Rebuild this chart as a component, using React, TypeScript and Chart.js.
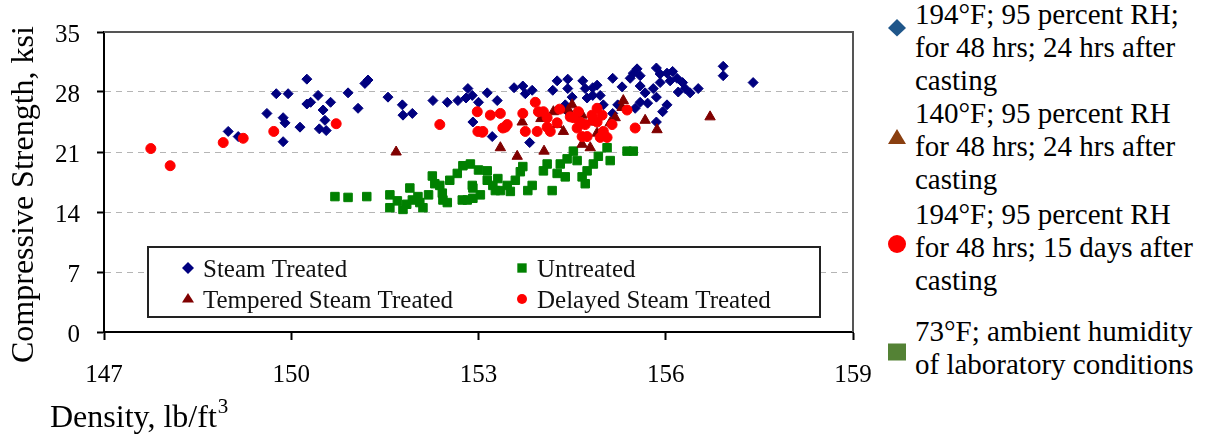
import React, { useEffect, useRef } from 'react';
import { Chart, registerables } from 'chart.js';

Chart.register(...registerables);

// ---------- data (density lb/ft3, compressive strength ksi) ----------
const steamTreated: [number, number][] = [
  [148.99, 23.4], [149.15, 22.8], [149.61, 25.5], [149.76, 27.8], [149.95, 27.8], [149.87, 25.0],
  [149.9, 24.4], [149.87, 22.2], [150.14, 23.9], [150.25, 29.5], [150.25, 26.6], [150.31, 26.8],
  [150.43, 27.6], [150.51, 25.9], [150.45, 23.7], [150.56, 23.5], [150.54, 24.7], [150.63, 26.8],
  [150.91, 27.9], [151.07, 26.1], [151.18, 29.0], [151.23, 29.4], [151.55, 27.4], [151.78, 26.5],
  [151.79, 25.3], [151.94, 25.5], [152.27, 27.0], [152.5, 26.8], [152.67, 27.0], [152.8, 27.3],
  [152.83, 28.4], [152.9, 27.6], [153.0, 26.8], [152.91, 24.5], [153.14, 27.9], [153.22, 22.8],
  [153.3, 27.0], [153.57, 28.5], [153.71, 28.7], [153.75, 27.8], [153.86, 28.2], [153.82, 22.1],
  [154.19, 28.2], [154.26, 29.3], [154.43, 29.5], [154.43, 28.4], [154.5, 27.4], [154.39, 26.5],
  [154.67, 29.3], [154.71, 28.4], [154.83, 28.5], [154.83, 27.6], [154.95, 27.6], [155.0, 26.5],
  [155.15, 29.6], [155.15, 25.5], [155.23, 26.5], [155.43, 29.6], [155.48, 30.2], [155.54, 30.7],
  [155.59, 28.7], [155.67, 27.9], [155.8, 28.4], [155.85, 30.8], [155.91, 30.1], [155.91, 29.1],
  [156.02, 30.2], [156.07, 29.3], [156.11, 30.4], [156.18, 29.6], [156.27, 29.1], [156.31, 28.4],
  [156.39, 27.9], [156.52, 28.4], [155.85, 27.4], [155.71, 26.7], [155.59, 26.8], [155.51, 26.1],
  [156.02, 26.5], [155.95, 25.7], [155.85, 24.5], [156.92, 31.0], [156.92, 29.9], [157.4, 29.1],
  [154.43, 25.7], [155.59, 29.9], [154.74, 27.3], [154.9, 28.8], [155.3, 28.6], [156.2, 28.0],
];

const untreated: [number, number][] = [
  [150.7, 15.8], [150.91, 15.7], [151.21, 15.8], [151.58, 16.0], [151.58, 14.5], [151.7, 15.3],
  [151.79, 14.3], [151.9, 16.8], [151.94, 15.4], [152.03, 15.8], [152.11, 14.5], [152.26, 18.2],
  [152.3, 17.3], [152.42, 16.2], [152.5, 15.1], [152.66, 18.5], [152.75, 19.4], [152.87, 19.6],
  [152.82, 15.4], [152.91, 16.8], [152.91, 15.6], [152.06, 15.1], [152.38, 17.1], [152.43, 15.4],
  [152.54, 17.7], [152.74, 15.4], [152.9, 17.1], [153.03, 16.0], [153.14, 18.8], [153.23, 17.1],
  [153.31, 17.9], [153.35, 16.5], [153.46, 17.1], [153.51, 16.4], [153.59, 17.7], [153.67, 18.7],
  [153.71, 19.3], [153.79, 16.5], [153.86, 17.1], [154.04, 18.8], [154.1, 19.6], [154.18, 16.5],
  [154.26, 18.5], [154.31, 19.6], [154.42, 20.2], [154.39, 18.1], [154.52, 21.1], [154.58, 20.0],
  [154.66, 18.1], [154.74, 18.8], [154.84, 19.6], [154.92, 20.5], [155.06, 21.5], [155.11, 20.0],
  [155.38, 21.1], [155.48, 21.1], [154.71, 17.3], [153.27, 16.5], [153.14, 17.7], [151.85, 14.9],
  [152.2, 16.0], [153.0, 18.9],
];

const temperedSteamTreated: [number, number][] = [
  [151.68, 21.0], [153.35, 21.5], [153.62, 20.5], [154.05, 21.1], [155.32, 27.0], [155.67, 24.7],
  [155.86, 23.6], [156.71, 25.1], [154.44, 25.9], [154.66, 25.3], [154.79, 24.5], [155.11, 24.4],
  [155.19, 25.0], [154.66, 21.9], [154.79, 21.5], [154.26, 24.2], [154.36, 23.4], [154.2, 25.7],
  [154.5, 26.5], [154.9, 23.2], [155.3, 26.2], [153.7, 24.5], [154.0, 24.9],
];

const delayedSteamTreated: [number, number][] = [
  [147.75, 21.4], [148.06, 19.4], [148.91, 22.1], [149.23, 22.6], [149.72, 23.4], [150.72, 24.3],
  [152.38, 24.2], [152.98, 25.7], [152.99, 23.4], [153.06, 23.3], [153.19, 25.3], [153.35, 25.5],
  [153.39, 23.8], [153.46, 24.2], [153.71, 25.5], [153.75, 23.4], [153.91, 26.8], [153.94, 23.4],
  [153.96, 25.7], [154.04, 25.7], [154.1, 25.0], [154.15, 23.4], [154.26, 24.4], [154.1, 23.9],
  [154.47, 25.1], [154.52, 25.0], [154.58, 23.8], [154.66, 22.8], [154.71, 24.2], [154.82, 25.3],
  [154.9, 24.5], [154.98, 25.3], [155.0, 23.4], [155.06, 22.7], [155.14, 24.2], [155.38, 25.9],
  [155.51, 23.8], [154.74, 22.8], [154.95, 22.7], [154.6, 25.7], [154.63, 24.5], [154.84, 24.7],
  [153.43, 23.9], [153.07, 23.4], [154.3, 26.0], [154.9, 26.1],
];

const xTicks = [147, 150, 153, 156, 159];
const yTicks = [0, 7, 14, 21, 28, 35];

const seriesNames = ['Steam Treated', 'Untreated', 'Tempered Steam Treated', 'Delayed Steam Treated'];
const xTitle = 'Density, lb/ft';
const xTitleSup = '3';
const yTitle = 'Compressive Strength, ksi';

const sideLegendBlocks: string[][] = [
  ['194°F; 95 percent RH;', 'for 48 hrs; 24 hrs after', 'casting'],
  ['140°F; 95 percent RH', 'for 48 hrs; 24 hrs after', 'casting'],
  ['194°F; 95 percent RH', 'for 48 hrs; 15 days after', 'casting'],
  ['73°F; ambient humidity', 'of laboratory conditions'],
];

const FONT = '"Liberation Serif", "Times New Roman", serif';

const COLORS = {
  steam: '#00007f',
  untreated: '#008000',
  tempered: '#800000',
  delayed: '#ff0000',
};

function drawMarker(ctx: CanvasRenderingContext2D, style: string, x: number, y: number, r: number, color: string) {
  ctx.save();
  ctx.fillStyle = color;
  ctx.beginPath();
  if (style === 'rectRot') {
    ctx.moveTo(x, y - r);
    ctx.lineTo(x + r, y);
    ctx.lineTo(x, y + r);
    ctx.lineTo(x - r, y);
    ctx.closePath();
  } else if (style === 'rect') {
    ctx.rect(x - r * 0.85, y - r * 0.85, r * 1.7, r * 1.7);
  } else if (style === 'triangle') {
    ctx.moveTo(x, y - r);
    ctx.lineTo(x + r, y + r * 0.6);
    ctx.lineTo(x - r, y + r * 0.6);
    ctx.closePath();
  } else {
    ctx.arc(x, y, r, 0, Math.PI * 2);
  }
  ctx.fill();
  ctx.restore();
}

const framePlugin = {
  id: 'frame',
  beforeDatasetsDraw(chart: any) {
    const { ctx, chartArea: a } = chart;
    ctx.save();
    ctx.strokeStyle = '#555';
    ctx.lineWidth = 2;
    ctx.beginPath();
    ctx.moveTo(a.left, a.top);
    ctx.lineTo(a.right, a.top);
    ctx.lineTo(a.right, a.bottom);
    ctx.stroke();
    ctx.restore();
  },
};

const innerLegendPlugin = {
  id: 'innerLegend',
  afterDatasetsDraw(chart: any) {
    const { ctx } = chart;
    const boxX = 148, boxY = 247, boxW = 672, boxH = 70;
    ctx.save();
    ctx.fillStyle = '#fff';
    ctx.fillRect(boxX, boxY, boxW, boxH);
    ctx.strokeStyle = '#222';
    ctx.lineWidth = 2;
    ctx.strokeRect(boxX, boxY, boxW, boxH);
    const cols = [188, 522];
    const rows = [277, 308];
    const order = [0, 1, 2, 3];
    ctx.font = `25px ${FONT}`;
    ctx.textBaseline = 'alphabetic';
    ctx.textAlign = 'left';
    order.forEach((di, k) => {
      const ds = chart.data.datasets[di];
      const cx = cols[k % 2];
      const by = rows[Math.floor(k / 2)];
      const style = ds.pointStyle;
      const r = style === 'circle' ? 5 : style === 'rect' ? 5.5 : 6;
      drawMarker(ctx, style, cx, by - 9, r, ds.backgroundColor);
      ctx.fillStyle = '#111';
      ctx.fillText(seriesNames[di], cx + 15, by);
    });
    ctx.restore();
  },
};

const titlesPlugin = {
  id: 'titles',
  afterDraw(chart: any) {
    const { ctx } = chart;
    ctx.save();
    ctx.fillStyle = '#000';
    ctx.font = `32px ${FONT}`;
    ctx.textBaseline = 'alphabetic';
    ctx.textAlign = 'left';
    // y title
    ctx.save();
    ctx.translate(33, 363);
    ctx.rotate(-Math.PI / 2);
    ctx.fillText(yTitle, 0, 0);
    ctx.restore();
    // x title
    ctx.fillText(xTitle, 50, 427);
    const w = ctx.measureText(xTitle).width;
    ctx.font = `21px ${FONT}`;
    ctx.fillText(xTitleSup, 50 + w + 1, 413);
    ctx.restore();
  },
};

function ScatterChart() {
  const ref = useRef<HTMLCanvasElement | null>(null);
  useEffect(() => {
    if (!ref.current) return;
    const toPts = (arr: [number, number][]) => arr.map(([x, y]) => ({ x, y }));
    const chart = new Chart(ref.current, {
      type: 'scatter',
      data: {
        datasets: [
          {
            label: seriesNames[0], data: toPts(steamTreated), pointStyle: 'rectRot', pointRadius: 5,
            backgroundColor: COLORS.steam, borderColor: COLORS.steam, borderWidth: 1, order: 4,
          },
          {
            label: seriesNames[1], data: toPts(untreated), pointStyle: 'rect', pointRadius: 6,
            backgroundColor: COLORS.untreated, borderColor: COLORS.untreated, borderWidth: 1, order: 3,
          },
          {
            label: seriesNames[2], data: toPts(temperedSteamTreated), pointStyle: 'triangle', pointRadius: 6,
            backgroundColor: COLORS.tempered, borderColor: COLORS.tempered, borderWidth: 1, order: 2,
          },
          {
            label: seriesNames[3], data: toPts(delayedSteamTreated), pointStyle: 'circle', pointRadius: 5,
            backgroundColor: COLORS.delayed, borderColor: COLORS.delayed, borderWidth: 1, order: 1,
          },
        ] as any,
      },
      options: {
        responsive: false,
        animation: false,
        events: [],
        layout: { padding: { top: 25, right: 47, left: 0, bottom: 0 } },
        plugins: { legend: { display: false }, tooltip: { enabled: false }, title: { display: false } },
        scales: {
          x: {
            type: 'linear',
            min: xTicks[0],
            max: xTicks[xTicks.length - 1],
            afterBuildTicks: (s: any) => { s.ticks = xTicks.map((v) => ({ value: v })); },
            afterFit: (s: any) => { s.height = 103; },
            ticks: { color: '#000', font: { family: FONT, size: 25 }, padding: 20, maxRotation: 0 },
            grid: { drawOnChartArea: false, drawTicks: true, tickLength: 8, tickColor: '#000', tickWidth: 2 },
            border: { display: true, color: '#000', width: 2 },
          },
          y: {
            type: 'linear',
            min: yTicks[0],
            max: yTicks[yTicks.length - 1],
            afterBuildTicks: (s: any) => { s.ticks = yTicks.map((v) => ({ value: v })); },
            afterFit: (s: any) => { s.width = 104; },
            ticks: { color: '#000', font: { family: FONT, size: 25 }, padding: 17, labelOffset: 3 },
            grid: {
              drawOnChartArea: true,
              drawTicks: true,
              tickLength: 7,
              tickColor: '#000',
              tickWidth: 2,
              lineWidth: 1,
              color: (c: any) =>
                c.tick && (c.tick.value === 0 || c.tick.value === 35) ? 'rgba(0,0,0,0)' : '#b5b5b5',
            },
            border: { display: true, color: '#000', width: 2, dash: [6, 5] },
          },
        },
      } as any,
      plugins: [framePlugin, innerLegendPlugin, titlesPlugin],
    });
    return () => chart.destroy();
  }, []);
  return (
    <canvas
      ref={ref}
      width={900}
      height={435}
      style={{ position: 'absolute', left: 0, top: 0, width: 900, height: 435 }}
    />
  );
}

function SideMarker({ kind, cy }: { kind: string; cy: number }) {
  const size = 20;
  const c = size / 2;
  let shape: React.ReactNode = null;
  if (kind === 'diamond') {
    shape = <polygon points={`${c},${c - 9} ${c + 9},${c} ${c},${c + 8.5} ${c - 9},${c}`} fill="#1f568a" />;
  } else if (kind === 'triangle') {
    shape = <polygon points={`${c},${c - 8} ${c + 9},${c + 7} ${c - 9},${c + 7}`} fill="#8a3f10" />;
  } else if (kind === 'circle') {
    shape = <circle cx={c} cy={c} r={9} fill="#ff0000" />;
  } else {
    shape = <rect x={c - 9} y={c - 8.5} width={18} height={17} fill="#548235" />;
  }
  return (
    <svg
      width={size}
      height={size}
      style={{ position: 'absolute', left: 897 - c, top: cy - c }}
    >
      {shape}
    </svg>
  );
}

export default function App() {
  const blockTops = [-2.4, 96.6, 197.6, 314.6];
  const markerKinds = ['diamond', 'triangle', 'circle', 'square'];
  const markerYs = [28, 137, 244, 352];
  return (
    <div style={{ position: 'absolute', left: 0, top: 0, width: 1207, height: 435, background: '#fff', overflow: 'hidden' }}>
      <ScatterChart />
      {sideLegendBlocks.map((lines, i) => (
        <div
          key={i}
          style={{
            position: 'absolute',
            left: 915,
            top: blockTops[i],
            fontFamily: FONT,
            fontSize: 29,
            lineHeight: '33.3px',
            color: '#000',
            whiteSpace: 'nowrap',
          }}
        >
          {lines.map((t, j) => (
            <div key={j}>{t}</div>
          ))}
        </div>
      ))}
      {markerKinds.map((k, i) => (
        <SideMarker key={k} kind={k} cy={markerYs[i]} />
      ))}
    </div>
  );
}
